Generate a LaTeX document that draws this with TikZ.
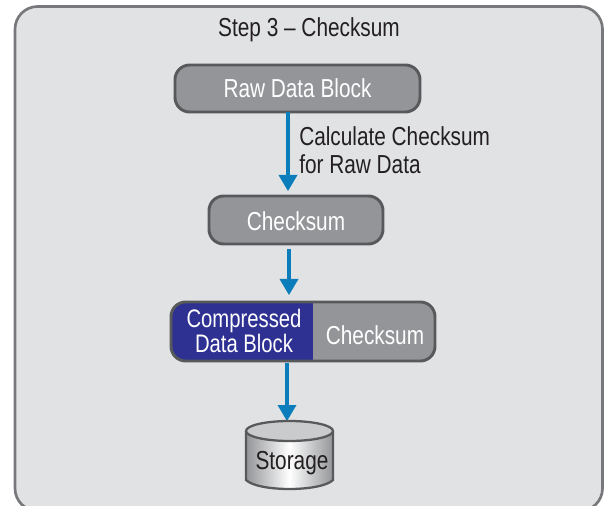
\documentclass[tikz,border=0pt]{standalone}
\usepackage{fontspec}
\setmainfont[FakeStretch=0.8]{Liberation Sans}
\usetikzlibrary{calc}
\definecolor{panelfill}{HTML}{E1E2E4}
\definecolor{panelline}{HTML}{77787B}
\definecolor{boxfill}{HTML}{939598}
\definecolor{boxline}{HTML}{58595B}
\definecolor{navy}{HTML}{2E3192}
\definecolor{flow}{HTML}{0A7DBA}
\definecolor{inktext}{HTML}{231F20}
\tikzset{
  x=0.75pt,y=-0.75pt,
  panel/.style={draw=panelline,line width=2pt,fill=panelfill,rounded corners=17pt},
  block/.style={draw=boxline,line width=2.2pt,fill=boxfill,rounded corners=11pt},
  blocktext/.style={text=white,font=\fontsize{19.5}{21}\selectfont,inner sep=0pt,align=center},
  darktext/.style={text=inktext,font=\fontsize{19.5}{21}\selectfont,inner sep=0pt},
  flowline/.style={draw=flow,line width=2.3pt},
  flowhead/.style={fill=flow,draw=none},
}
\newcommand{\flowarrow}[2]{%
  \draw[flowline] (#1) -- ($(#2)+(0,-12)$);
  \fill[flowhead] (#2) -- ($(#2)+(-9.5,-16)$) -- ($(#2)+(9.5,-16)$) -- cycle;}
\begin{document}
\begin{tikzpicture}
\useasboundingbox (0,0) rectangle (604,506);
\begin{scope}
\clip (0,0) rectangle (604,506);
\draw[panel] (15,511) rectangle (602.5,6.5);
\end{scope}
\node[darktext] (title) at (309,30) {Step 3 – Checksum};
% raw block
\draw[block] (175,65) rectangle (420,112);
\node[blocktext] (raw) at (297.5,88.5) {Raw Data Block};
\coordinate (rawout) at (288,112);
\coordinate (chkin) at (288,191);
\flowarrow{rawout}{chkin}
\node[darktext,anchor=west,align=left] (calc) at (299,150) {Calculate Checksum\\for Raw Data};
% checksum block
\draw[block] (209,196) rectangle (383,244);
\node[blocktext] (chk) at (296,221) {Checksum};
\coordinate (chkout) at (289,249);
\coordinate (combin) at (289,295);
\flowarrow{chkout}{combin}
% combined block
\begin{scope}
\clip[rounded corners=11pt] (171,302) rectangle (435,361);
\fill[navy] (171,302) rectangle (313,361);
\fill[boxfill] (313,302) rectangle (435,361);
\end{scope}
\draw[boxline,line width=2.2pt,rounded corners=11pt] (171,302) rectangle (435,361);
\node[blocktext,font=\fontsize{19}{18.8}\selectfont] (comp) at (244,331) {Compressed\\Data Block};
\node[blocktext] (sum) at (375,335) {Checksum};
\coordinate (combout) at (287,363);
\coordinate (storin) at (287,421);
\flowarrow{combout}{storin}
% storage cylinder
\shade[left color=boxfill,right color=boxfill,middle color=white]
  (246,431) -- (246,480) .. controls (258,492) and (321,492) .. (333,480) -- (333,431) -- cycle;
\draw[boxline,line width=1.7pt] (246,431) -- (246,480) .. controls (258,492) and (321,492) .. (333,480) -- (333,431);
\draw[boxline,line width=1.7pt,fill=panelfill!70!boxfill] (289.5,431) ellipse [x radius=43.5,y radius=10];
\node[darktext] (storage) at (292,463) {Storage};
\end{tikzpicture}
\end{document}
